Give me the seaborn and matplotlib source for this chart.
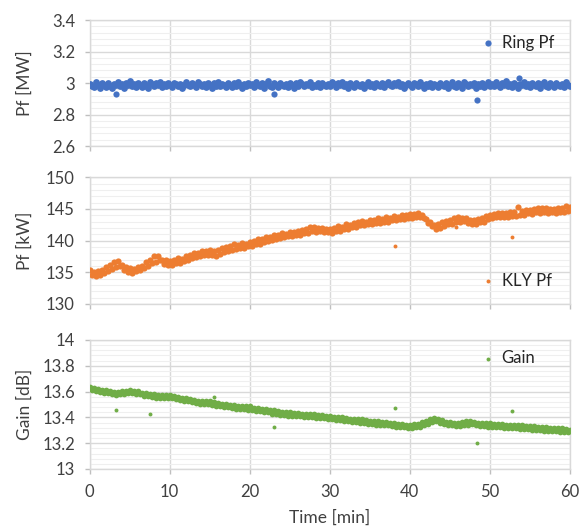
import numpy as np
import pandas as pd
import matplotlib
matplotlib.use("Agg")
import matplotlib.pyplot as plt
from matplotlib.ticker import MultipleLocator, FuncFormatter
import seaborn as sns

# sample times [min], one reading every 15 s
time = np.linspace(0, 60, 241)

ring_pf = [
    2.995, 2.980, 2.972, 3.004, 2.985, 2.968, 2.998, 2.990, 2.975, 3.002,
    2.983, 2.970, 2.996, 2.988, 3.005, 2.978, 2.992, 2.967, 3.000, 2.986,
    3.012, 2.981, 2.994, 2.973, 3.003, 2.989, 2.976, 2.999, 2.984, 2.971,
    3.006, 2.991, 2.979, 2.997, 2.985, 3.008, 2.977, 2.993, 2.982, 3.001,
    2.988, 2.974, 3.003, 2.991, 2.980, 2.996, 2.969, 2.985, 3.007, 2.990,
    2.978, 2.999, 2.986, 2.972, 3.004, 2.992, 2.981, 2.995, 2.975, 3.001,
    2.989, 2.970, 2.997, 2.984, 3.009, 2.979, 2.993, 2.987, 2.973, 3.002,
    2.990, 2.977, 2.998, 2.983, 3.005, 2.986, 2.971, 2.996, 2.982, 3.000,
    2.985, 2.992, 2.974, 3.006, 2.989, 2.979, 2.997, 2.968, 2.991, 3.010,
    2.984, 2.976, 2.999, 2.987, 2.972, 3.003, 2.990, 2.981, 2.995, 2.977,
    3.001, 2.986, 2.970, 2.998, 2.983, 3.007, 2.992, 2.978, 2.994, 2.985,
    3.004, 2.973, 2.990, 2.982, 2.999, 2.976, 3.002, 2.988, 2.980, 2.996,
    2.983, 3.005, 2.991, 2.974, 2.997, 2.986, 3.008, 2.979, 2.993, 2.969,
    2.999, 2.987, 2.977, 3.003, 2.990, 2.982, 2.996, 2.971, 2.988, 3.006,
    2.984, 2.993, 2.975, 3.001, 2.989, 2.980, 2.998, 2.972, 2.992, 3.004,
    2.985, 2.978, 2.997, 2.987, 3.009, 2.981, 2.994, 2.970, 2.990, 3.002,
    2.986, 2.974, 2.999, 2.991, 2.980, 3.006, 2.988, 2.968, 2.995, 2.983,
    3.003, 2.977, 2.992, 2.985, 2.973, 3.000, 2.989, 2.981, 2.997, 2.966,
    2.990, 3.007, 2.984, 2.976, 2.998, 2.987, 2.971, 3.004, 2.993, 2.979,
    2.996, 2.985, 3.002, 2.970, 2.991, 2.982, 2.999, 2.975, 2.988, 3.005,
    2.984, 2.994, 2.978, 3.006, 2.989, 2.972, 2.998, 2.986, 3.011, 2.981,
    2.993, 2.976, 3.003, 2.990, 2.969, 2.996, 2.985, 3.008, 2.979, 2.992,
    2.974, 3.001, 2.988, 2.982, 2.997, 2.971, 2.991, 3.005, 2.984, 2.977,
    2.999, 2.987, 2.973, 3.002, 2.990, 2.980, 2.995, 2.976, 3.004, 2.989,
    2.983,
]
ring_out_t = [3.3, 23.05, 48.4, 53.6]
ring_out_v = [2.93, 2.93, 2.894, 3.03]

kly_pf = [
    135.3, 134.6, 135.1, 134.4, 135.2, 134.5, 135.4, 134.9,
    135.9, 135.2, 136.1, 135.6, 136.6, 135.9, 136.8, 136.0,
    136.1, 135.4, 135.9, 135.1, 135.7, 134.9, 135.6, 135.2,
    135.9, 135.3, 136.0, 135.7, 136.6, 136.0, 136.9, 136.4,
    137.5, 136.7, 137.6, 136.9, 137.0, 136.3, 136.9, 136.2,
    136.8, 136.1, 136.9, 136.5, 137.2, 136.5, 137.1, 136.8,
    137.5, 136.9, 137.7, 137.3, 138.1, 137.4, 138.0, 137.6,
    138.4, 137.7, 138.3, 137.8, 138.5, 137.8, 138.4, 137.6,
    138.6, 137.9, 138.8, 138.2, 139.0, 138.4, 139.1, 138.6,
    139.4, 138.7, 139.3, 138.9, 139.6, 138.9, 139.5, 139.1,
    139.8, 139.1, 139.9, 139.4, 140.2, 139.5, 140.3, 139.8,
    140.6, 139.9, 140.5, 140.1, 140.9, 140.2, 140.9, 140.4,
    141.2, 140.5, 141.1, 140.7, 141.4, 140.7, 141.3, 140.9,
    141.6, 140.9, 141.7, 141.2, 141.9, 141.2, 142.1, 141.5,
    142.2, 141.4, 142.0, 141.5, 142.0, 141.3, 141.9, 141.4,
    141.9, 141.2, 142.0, 141.6, 142.3, 141.5, 142.2, 141.8,
    142.6, 141.9, 142.5, 142.1, 142.8, 142.1, 142.9, 142.4,
    143.1, 142.4, 143.0, 142.6, 143.3, 142.6, 143.2, 142.8,
    143.5, 142.8, 143.4, 143.0, 143.7, 143.0, 143.6, 143.2,
    143.9, 143.2, 143.8, 143.4, 144.1, 143.4, 144.0, 143.5,
    144.2, 143.5, 144.2, 143.7, 144.3, 143.7, 144.1, 143.5,
    143.4, 142.8, 142.9, 142.3, 142.5, 141.9, 142.6, 142.0,
    143.0, 142.3, 143.1, 142.7, 143.3, 142.7, 143.5, 143.0,
    143.7, 143.0, 143.6, 143.1, 143.5, 142.8, 143.2, 142.6,
    143.2, 142.6, 143.4, 143.0, 143.6, 143.0, 143.9, 143.4,
    144.1, 143.5, 144.2, 143.7, 144.3, 143.7, 144.4, 143.8,
    144.4, 143.8, 144.5, 143.9, 144.5, 143.9, 145.3, 144.1,
    144.7, 144.0, 144.8, 144.3, 144.9, 144.2, 145.0, 144.5,
    145.1, 144.4, 145.2, 144.6, 145.1, 144.4, 145.0, 144.5,
    145.0, 144.3, 145.1, 144.6, 145.2, 144.5, 145.4, 144.7,
    145.3,
]
kly_out_t = [38.1, 45.8, 52.8]
kly_out_v = [139.1, 142.1, 140.6]

gain = [
    13.635, 13.610, 13.628, 13.605, 13.622, 13.598, 13.615, 13.592,
    13.612, 13.588, 13.603, 13.578, 13.598, 13.572, 13.594, 13.580,
    13.604, 13.580, 13.606, 13.588, 13.615, 13.592, 13.608, 13.585,
    13.602, 13.578, 13.592, 13.568, 13.588, 13.562, 13.580, 13.558,
    13.578, 13.552, 13.572, 13.550, 13.574, 13.548, 13.570, 13.552,
    13.576, 13.549, 13.562, 13.540, 13.558, 13.534, 13.552, 13.528,
    13.548, 13.524, 13.540, 13.516, 13.538, 13.512, 13.530, 13.506,
    13.528, 13.502, 13.524, 13.500, 13.524, 13.498, 13.516, 13.490,
    13.514, 13.488, 13.506, 13.480, 13.504, 13.478, 13.496, 13.470,
    13.494, 13.468, 13.490, 13.464, 13.490, 13.462, 13.486, 13.460,
    13.485, 13.458, 13.476, 13.450, 13.474, 13.448, 13.466, 13.440,
    13.464, 13.438, 13.456, 13.430, 13.454, 13.428, 13.446, 13.420,
    13.444, 13.418, 13.440, 13.414, 13.440, 13.412, 13.436, 13.410,
    13.434, 13.408, 13.430, 13.404, 13.430, 13.402, 13.426, 13.400,
    13.424, 13.398, 13.420, 13.394, 13.420, 13.392, 13.414, 13.390,
    13.414, 13.388, 13.404, 13.380, 13.404, 13.378, 13.400, 13.374,
    13.398, 13.372, 13.390, 13.364, 13.390, 13.362, 13.386, 13.360,
    13.384, 13.358, 13.376, 13.350, 13.374, 13.348, 13.370, 13.344,
    13.370, 13.342, 13.364, 13.340, 13.364, 13.338, 13.356, 13.330,
    13.354, 13.328, 13.350, 13.324, 13.350, 13.322, 13.344, 13.320,
    13.344, 13.318, 13.348, 13.322, 13.350, 13.326, 13.362, 13.340,
    13.374, 13.350, 13.390, 13.366, 13.398, 13.372, 13.388, 13.356,
    13.378, 13.352, 13.366, 13.338, 13.364, 13.338, 13.360, 13.332,
    13.358, 13.334, 13.366, 13.342, 13.370, 13.344, 13.374, 13.348,
    13.368, 13.342, 13.360, 13.332, 13.358, 13.332, 13.354, 13.328,
    13.354, 13.326, 13.350, 13.322, 13.348, 13.322, 13.346, 13.318,
    13.344, 13.318, 13.344, 13.316, 13.344, 13.316, 13.340, 13.312,
    13.338, 13.312, 13.334, 13.308, 13.334, 13.306, 13.330, 13.304,
    13.328, 13.302, 13.324, 13.298, 13.324, 13.298, 13.320, 13.294,
    13.318, 13.292, 13.314, 13.290, 13.314, 13.288, 13.310, 13.284,
    13.300,
]
gain_out_t = [3.3, 7.6, 15.5, 23.0, 38.1, 48.4, 52.8]
gain_out_v = [13.46, 13.43, 13.56, 13.325, 13.47, 13.20, 13.45]

sns.set_theme(style="white")
plt.rcParams['font.family'] = ['Lato', 'DejaVu Sans']

fig = plt.figure(figsize=(5.87, 5.31), dpi=100)

panels = [
    # (values, outlier t, outlier v, label, colour, band size, outlier size, ylim, major, minor, ylabel, legend y, rect)
    (ring_pf, ring_out_t, ring_out_v, 'Ring Pf', '#4472C4', 24, 20, (2.6, 3.4), 0.2, 0.04,
     'Pf [MW]', 0.82, [0.1525, 0.725, 0.8186, 0.2373]),
    (kly_pf, kly_out_t, kly_out_v, 'KLY Pf', '#ED7D31', 20, 8, (130, 150), 5, 1,
     'Pf [kW]', 0.184, [0.1525, 0.4275, 0.8186, 0.2386]),
    (gain, gain_out_t, gain_out_v, 'Gain', '#70AD47', 17, 8, (13, 14), 0.2, 0.04,
     'Gain [dB]', 0.858, [0.1525, 0.1168, 0.8186, 0.2429]),
]

for i, (vals, ot, ov, name, col, size, osize, ylim, major, minor, ylab, leg_y, rect) in enumerate(panels):
    ax = fig.add_axes(rect)
    band = pd.DataFrame({'t': time, 'v': vals})
    outl = pd.DataFrame({'t': ot, 'v': ov})
    sns.scatterplot(data=band, x='t', y='v', ax=ax, color=col, s=size, linewidth=0, zorder=3)
    sns.scatterplot(data=outl, x='t', y='v', ax=ax, color=col, s=osize, linewidth=0,
                    label=name, zorder=3)

    ax.set_xlim(0, 60)
    ax.set_ylim(*ylim)
    ax.xaxis.set_major_locator(MultipleLocator(10))
    ax.yaxis.set_major_locator(MultipleLocator(major))
    ax.yaxis.set_minor_locator(MultipleLocator(minor))
    ax.yaxis.set_major_formatter(FuncFormatter(lambda v, p: f'{v:g}'))
    ax.grid(True, which='major', color='#d9d9d9', linewidth=1.0, zorder=0)
    ax.grid(True, which='minor', axis='y', color='#efefef', linewidth=0.8, zorder=0)
    ax.set_axisbelow(True)
    for sp in ax.spines.values():
        sp.set_visible(True)
        sp.set_color('#d9d9d9')
        sp.set_linewidth(1.0)
    ax.tick_params(axis='both', which='major', length=3.5, width=1.0, color='#bfbfbf',
                   labelsize=12, labelcolor='#404040', pad=7)
    ax.tick_params(axis='y', which='minor', length=0)
    ax.tick_params(axis='x', bottom=True)
    ax.tick_params(axis='y', left=True)

    ax.set_ylabel(ylab, fontsize=12.5, color='#404040')
    ax.yaxis.set_label_coords(-0.118, 0.5)
    if i < 2:
        ax.set_xlabel('')
        ax.tick_params(axis='x', labelbottom=False)
    else:
        ax.set_xlabel('Time [min]', fontsize=12.5, color='#404040', labelpad=7)

    ax.legend(loc='center left', bbox_to_anchor=(0.8196, leg_y), frameon=False,
              handlelength=0.6, handletextpad=0.5, borderpad=0, borderaxespad=0,
              fontsize=12, labelcolor='#262626')

fig.savefig('out.png', dpi=100)
